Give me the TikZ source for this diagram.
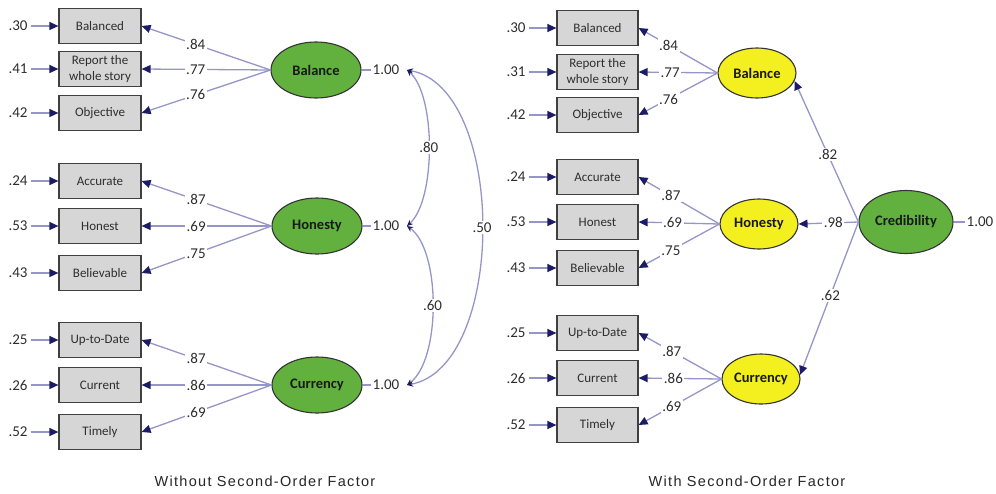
\documentclass[tikz,border=0pt]{standalone}
\usepackage{fontspec}
\setmainfont{Carlito}
\newfontfamily\capfont[LetterSpace=9]{Liberation Sans}
\usetikzlibrary{arrows.meta,shapes.geometric}
\definecolor{ln}{HTML}{9595C8}
\definecolor{tipc}{HTML}{1C1C66}
\definecolor{boxfill}{HTML}{D6D6D6}
\definecolor{grn}{HTML}{62B13F}
\definecolor{ylw}{HTML}{F4EF1F}
\definecolor{txt}{HTML}{2E2E2E}
\begin{document}
\begin{tikzpicture}[x=1pt,y=-1pt,
 obs/.style={draw=black!75,line width=1.2pt,fill=boxfill,minimum width=82pt,minimum height=35pt,inner sep=0pt,align=center,font=\fontsize{13}{15.5}\selectfont,text=txt},
 lat/.style={ellipse,draw=black!80,line width=1.1pt,inner sep=0pt,font=\bfseries\fontsize{14.5}{16}\selectfont,text=black!90},
 lat1/.style={lat,fill=grn,minimum width=90pt,minimum height=56pt},
 lat2/.style={lat,fill=ylw,minimum width=78pt,minimum height=50pt},
 num/.style={font=\fontsize{15}{17}\selectfont,text=txt,inner sep=1.5pt},
 lbl/.style={num,fill=white},
 load/.style={draw=ln,line width=1.3pt,-{Triangle[length=9pt,width=8pt,color=tipc]}},
 errarr/.style={load,shorten <=2pt},
 cov/.style={draw=ln,line width=1.3pt,{Stealth[length=6pt,width=5.5pt,color=tipc]}-{Stealth[length=6pt,width=5.5pt,color=tipc]}},
 plainln/.style={draw=ln,line width=1.3pt},
 captext/.style={font=\capfont\fontsize{14.5}{16}\selectfont,text=black!85}
]
\useasboundingbox (0,0) rectangle (996,493);

% ---------------- Left panel ----------------
\node[obs] (l1) at (100,26) {Balanced};
\node[obs] (l2) at (100,69) {Report the\\whole story};
\node[obs] (l3) at (100,113) {Objective};
\node[obs] (l4) at (100,181) {Accurate};
\node[obs] (l5) at (100,226) {Honest};
\node[obs] (l6) at (100,273) {Believable};
\node[obs] (l7) at (100,340) {Up-to-Date};
\node[obs] (l8) at (100,385) {Current};
\node[obs] (l9) at (100,432) {Timely};

\node[num] (le1) at (18,26) {.30};
\node[num] (le2) at (18,69) {.41};
\node[num] (le3) at (18,113) {.42};
\node[num] (le4) at (18,181) {.24};
\node[num] (le5) at (18,226) {.53};
\node[num] (le6) at (18,273) {.43};
\node[num] (le7) at (18,340) {.25};
\node[num] (le8) at (18,385) {.26};
\node[num] (le9) at (18,432) {.52};
\foreach \i in {1,...,9} {\draw[errarr] (le\i) -- (l\i);}

\node[lat1] (LB) at (316,70) {Balance};
\node[lat1] (LH) at (317,226) {Honesty};
\node[lat1] (LC) at (317,385) {Currency};

\draw[load] (LB.west) -- node[lbl,pos=.58]{.84} (l1.east);
\draw[load] (LB.west) -- node[lbl,pos=.58]{.77} (l2.east);
\draw[load] (LB.west) -- node[lbl,pos=.58]{.76} (l3.east);
\draw[load] (LH.west) -- node[lbl,pos=.58]{.87} (l4.east);
\draw[load] (LH.west) -- node[lbl,pos=.58]{.69} (l5.east);
\draw[load] (LH.west) -- node[lbl,pos=.58]{.75} (l6.east);
\draw[load] (LC.west) -- node[lbl,pos=.58]{.87} (l7.east);
\draw[load] (LC.west) -- node[lbl,pos=.58]{.86} (l8.east);
\draw[load] (LC.west) -- node[lbl,pos=.58]{.69} (l9.east);

\node[num] (vB) at (386,70) {1.00};
\node[num] (vH) at (386,226) {1.00};
\node[num] (vC) at (386,385) {1.00};
\draw[plainln] (LB.east) -- (vB.west);
\draw[plainln] (LH.east) -- (vH.west);
\draw[plainln] (LC.east) -- (vC.west);
\coordinate (cB) at (407,70);
\coordinate (cH) at (407,226);
\coordinate (cC) at (407,385);
\draw[cov] (cB) .. controls (436,95) and (436,200) .. node[lbl,pos=.5]{.80} (cH);
\draw[cov] (cH) .. controls (441,250) and (441,360) .. node[lbl,pos=.5]{.60} (cC);
\draw[cov] (cB) .. controls (507,88) and (507,367) .. node[lbl,pos=.5]{.50} (cC);

\node[captext] (cap1) at (265,481) {Without Second-Order Factor};

% ---------------- Right panel ----------------
\node[obs,minimum width=81pt] (r1) at (597.5,28) {Balanced};
\node[obs,minimum width=81pt] (r2) at (597.5,72) {Report the\\whole story};
\node[obs,minimum width=81pt] (r3) at (597.5,115) {Objective};
\node[obs,minimum width=81pt] (r4) at (597.5,177) {Accurate};
\node[obs,minimum width=81pt] (r5) at (597.5,222) {Honest};
\node[obs,minimum width=81pt] (r6) at (597.5,268) {Believable};
\node[obs,minimum width=81pt] (r7) at (597.5,333) {Up-to-Date};
\node[obs,minimum width=81pt] (r8) at (597.5,378) {Current};
\node[obs,minimum width=81pt] (r9) at (597.5,425) {Timely};

\node[num] (re1) at (516,28) {.30};
\node[num] (re2) at (516,72) {.31};
\node[num] (re3) at (516,115) {.42};
\node[num] (re4) at (516,177) {.24};
\node[num] (re5) at (516,222) {.53};
\node[num] (re6) at (516,268) {.43};
\node[num] (re7) at (516,333) {.25};
\node[num] (re8) at (516,378) {.26};
\node[num] (re9) at (516,425) {.52};
\foreach \i in {1,...,9} {\draw[errarr] (re\i) -- (r\i);}

\node[lat2] (RB) at (757,73) {Balance};
\node[lat2] (RH) at (759,224) {Honesty};
\node[lat2] (RC) at (761,379) {Currency};
\node[lat1,minimum width=94pt,minimum height=63pt] (RCr) at (906,222) {Credibility};

\draw[load] (RB.west) -- node[lbl,pos=.62]{.84} (r1.east);
\draw[load] (RB.west) -- node[lbl,pos=.6]{.77} (r2.east);
\draw[load] (RB.west) -- node[lbl,pos=.62]{.76} (r3.east);
\draw[load] (RH.west) -- node[lbl,pos=.6]{.87} (r4.east);
\draw[load] (RH.west) -- node[lbl,pos=.58]{.69} (r5.east);
\draw[load] (RH.west) -- node[lbl,pos=.6]{.75} (r6.east);
\draw[load] (RC.west) -- node[lbl,pos=.6]{.87} (r7.east);
\draw[load] (RC.west) -- node[lbl,pos=.58]{.86} (r8.east);
\draw[load] (RC.west) -- node[lbl,pos=.6]{.69} (r9.east);

\draw[load] (RCr.west) -- node[lbl,pos=.48]{.82} (RB.-12);
\draw[load] (RCr.west) -- node[lbl,pos=.42]{.98} (RH.east);
\draw[load] (RCr.west) -- node[lbl,pos=.48]{.62} (RC.6);

\node[num] (vCr) at (980,222) {1.00};
\draw[plainln] (RCr.east) -- (vCr.west);

\node[captext] (cap2) at (747,481) {With Second-Order Factor};
\end{tikzpicture}
\end{document}
